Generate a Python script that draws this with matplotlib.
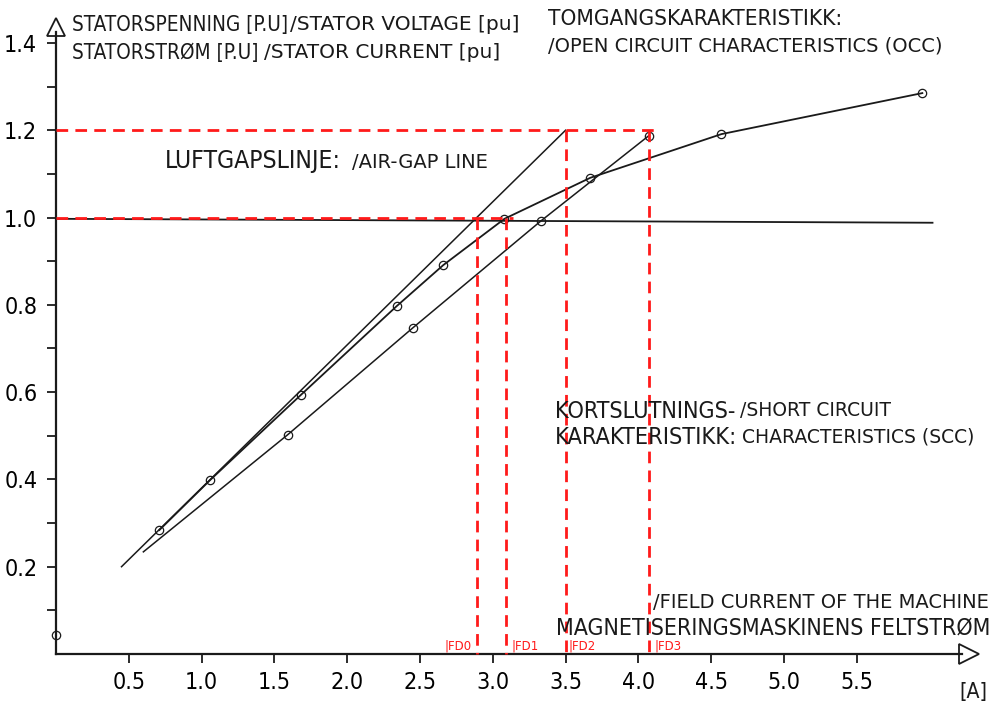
import matplotlib
matplotlib.use('Agg')
import matplotlib.pyplot as plt
from matplotlib import font_manager as fm

# open circuit characteristic (OCC), measured points
occ_x = [0.71, 1.06, 1.68, 2.34, 2.66, 3.08, 3.67, 4.57, 5.95]
occ_y = [0.284, 0.399, 0.593, 0.797, 0.891, 0.997, 1.091, 1.191, 1.285]
# remanence point on the y axis
rem_x = [0.0]
rem_y = [0.044]

# short circuit characteristic (SCC), first point is only the line start
scc_x = [0.60, 1.59, 2.45, 3.33, 4.07]
scc_y = [0.234, 0.502, 0.747, 0.992, 1.187]

# air-gap line
agl_x = [0.45, 3.50]
agl_y = [0.20, 1.20]

# 1.0 pu line
unit_x = [0.0, 6.02]
unit_y = [0.997, 0.988]

# red construction lines
fd_names = ['FD0', 'FD1', 'FD2', 'FD3']
fd_x = [2.89, 3.09, 3.50, 4.07]
fd_top = [1.0, 1.0, 1.2, 1.2]
fd_label_x = [2.67, 3.13, 3.52, 4.11]
ref_y = [1.2, 1.0]
ref_end = [4.13, 3.14]

xticks = [0.5, 1.0, 1.5, 2.0, 2.5, 3.0, 3.5, 4.0, 4.5, 5.0, 5.5]
xtick_labels = ['0.5', '1.0', '1.5', '2.0', '2.5', '3.0', '3.5', '4.0', '4.5', '5.0', '5.5']
yticks = [0.2, 0.4, 0.6, 0.8, 1.0, 1.2, 1.4]
ytick_labels = ['0.2', '0.4', '0.6', '0.8', '1.0', '1.2', '1.4']
yminor = [0.1, 0.3, 0.5, 0.7, 0.9, 1.1, 1.3]

INK = '#1a1a1a'
RED = '#ff1a1a'

# narrow lettering for the norwegian captions: take a condensed face if one is installed
narrow_fp = fm.FontProperties(family='DejaVu Sans')
for key in ['NotoSans-ExtraCondensed.ttf', 'NotoSans-Condensed.ttf', 'DejaVuSansCondensed.ttf',
            'LiberationSansNarrow-Regular.ttf']:
    hits = [f.fname for f in fm.fontManager.ttflist if f.fname.endswith(key)]
    if hits:
        narrow_fp = fm.FontProperties(fname=hits[0])
        break

W, H = 994, 707
fig = plt.figure(figsize=(W / 100, H / 100), dpi=100)
renderer = fig.canvas.get_renderer()
ax = fig.add_axes([0, 0, 1, 1])
# pixel layout of the scan: x=0 at px 56 (145.6 px/A), y=0 at px 654 (436.5 px/pu)
ax.set_xlim(-56 / 145.6, (W - 56) / 145.6)
ax.set_ylim((654 - H) / 436.5, 654 / 436.5)
ax.patch.set_alpha(0)


def ntext(x, y, s, width=None, ha='left', size=16):
    # norwegian caption, font size fitted to the width it has in the scan
    t = fig.text(x / W, 1 - y / H, s, fontproperties=narrow_fp, fontsize=size, color=INK,
                 ha=ha, va='center')
    if width:
        w = t.get_window_extent(renderer).width
        t.set_fontsize(size * width / w)
    return t


def etext(x, y, s, size=14):
    return fig.text(x / W, 1 - y / H, s, family='DejaVu Sans', fontsize=size, color=INK,
                    ha='left', va='center')


for s in ['top', 'right']:
    ax.spines[s].set_visible(False)
ax.spines['left'].set_position(('data', 0))
ax.spines['bottom'].set_position(('data', 0))
ax.spines['left'].set_bounds(0, 1.425)
ax.spines['bottom'].set_bounds(0, 6.22)
for s in ['left', 'bottom']:
    ax.spines[s].set_linewidth(1.6)
    ax.spines[s].set_color(INK)

# tick label size taken from the width of one label ("3.5" is ~33 px wide)
probe = fig.text(0, 0, '3.5', fontproperties=narrow_fp, fontsize=16)
tick_size = 16 * 33 / probe.get_window_extent(renderer).width
probe.remove()
tick_fp = narrow_fp.copy()
tick_fp.set_size(tick_size)

ax.set_xticks(xticks)
ax.set_xticklabels(xtick_labels, fontproperties=tick_fp)
ax.set_yticks(yticks)
ax.set_yticklabels(ytick_labels, fontproperties=tick_fp)
ax.set_yticks(yminor, minor=True)
ax.tick_params(axis='both', which='both', direction='out', length=6.5, width=1.3, color=INK)
ax.tick_params(axis='x', pad=6)
ax.tick_params(axis='y', pad=7)

# axis arrow heads (hollow)
ax.plot([0], [1.437], marker='^', ms=13, mfc='white', mec=INK, mew=1.3, clip_on=False)
ax.plot([6.27], [0], marker='>', ms=14, mfc='white', mec=INK, mew=1.3, clip_on=False)

# red construction lines
for y, xe in zip(ref_y, ref_end):
    ax.plot([0, xe], [y, y], color=RED, lw=2, dashes=(4.2, 2.6), zorder=3)
for x, top in zip(fd_x, fd_top):
    ax.plot([x, x], [top, 0], color=RED, lw=2, dashes=(4.2, 2.6), zorder=3)
for x, name in zip(fd_label_x, fd_names):
    ax.text(x, 0.004, '|' + name, color=RED, fontsize=8.5, ha='left', va='bottom')

# black curves
ax.plot(unit_x, unit_y, color=INK, lw=1.3)
ax.plot(agl_x, agl_y, color=INK, lw=1.1)
ax.plot(occ_x, occ_y, color=INK, lw=1.3, marker='o', ms=6, mfc='none', mec=INK, mew=0.9)
ax.plot(scc_x, scc_y, color=INK, lw=1.1, marker='o', ms=6, mfc='none', mec=INK, mew=0.9,
        markevery=[1, 2, 3, 4])
ax.plot(rem_x, rem_y, ls='none', marker='o', ms=6, mfc='none', mec=INK, mew=0.9, clip_on=False)

# captions
t1 = ntext(72, 25, 'STATORSPENNING [P.U]', 216)
etext(290, 25, '/STATOR VOLTAGE [pu]', 14.5)
# second header line uses the same lettering size, english follows after one space
t2 = ntext(72, 53, 'STATORSTRØM [P.U]', size=t1.get_fontsize())
etext(t2.get_window_extent(renderer).x1 + 6, 53, '/STATOR CURRENT [pu]', 14.5)
ntext(548, 19, 'TOMGANGSKARAKTERISTIKK:', 295)
etext(548, 46, '/OPEN CIRCUIT CHARACTERISTICS (OCC)')
ntext(165, 161, 'LUFTGAPSLINJE:', 177)
etext(352, 162, '/AIR-GAP LINE')
ntext(555, 411, 'KORTSLUTNINGS-', 182)
etext(740, 411, '/SHORT CIRCUIT', 13.5)
ntext(555, 437, 'KARAKTERISTIKK:', 183)
etext(742, 437, 'CHARACTERISTICS (SCC)', 13.5)
etext(653, 603, '/FIELD CURRENT OF THE MACHINE')
ntext(990, 628, 'MAGNETISERINGSMASKINENS FELTSTRØM', 437, ha='right')
ntext(959, 692, '[A]', 28)

fig.savefig('out.png', dpi=100, facecolor='white')
